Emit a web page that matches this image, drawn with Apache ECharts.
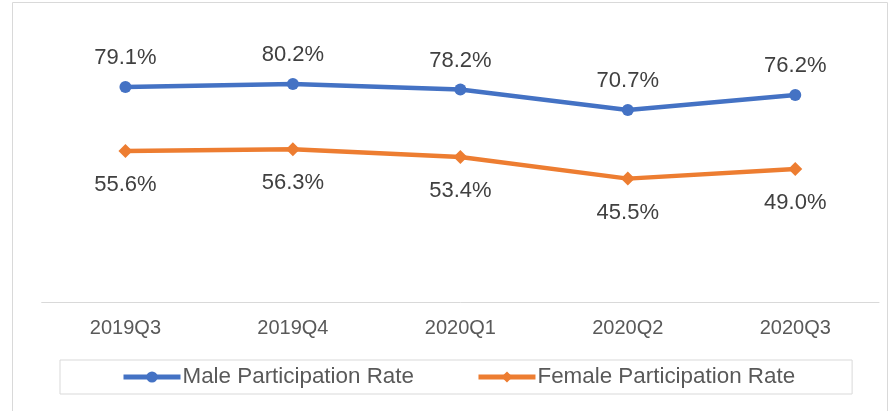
<!DOCTYPE html>
<html>
<head>
<meta charset="utf-8">
<script src="https://cdn.jsdelivr.net/npm/echarts@6/dist/echarts.min.js"></script>
<style>
html,body{margin:0;padding:0;background:#fff;}
#c{width:889px;height:411px;}
</style>
</head>
<body>
<div id="c"></div>
<script>
const categories = ['2019Q3', '2019Q4', '2020Q1', '2020Q2', '2020Q3'];
const maleRate = [79.1, 80.2, 78.2, 70.7, 76.2];
const femaleRate = [55.6, 56.3, 53.4, 45.5, 49.0];
const seriesNames = ['Male Participation Rate', 'Female Participation Rate'];

const chart = echarts.init(document.getElementById('c'), null, {renderer: 'canvas'});
const font = 'Liberation Sans, Arial, sans-serif';
chart.setOption({
  animation: false,
  textStyle: {fontFamily: font},
  graphic: [{
    type: 'rect',
    shape: {x: 12.5, y: 2.5, width: 875, height: 430},
    style: {fill: 'none', stroke: '#d9d9d9', lineWidth: 1},
    silent: true
  }],
  grid: {left: 41.7, right: 10, top: 30, bottom: 108.3},
  legend: {
    left: 60, top: 360,
    padding: [6, 57, 6, 61],
    borderColor: '#d9d9d9', borderWidth: 1,
    itemWidth: 57, itemHeight: 14, itemGap: 62,
    lineStyle: {width: 5},
    textStyle: {fontSize: 22.4, color: '#595959', fontFamily: font, padding: [0, 0, 0, -3]},
    data: seriesNames
  },
  xAxis: {
    type: 'category', data: categories, boundaryGap: true,
    axisLine: {lineStyle: {color: '#d9d9d9', width: 1}},
    axisTick: {show: false},
    axisLabel: {fontSize: 20, color: '#595959', margin: 16, fontFamily: font}
  },
  yAxis: {type: 'value', min: 0, max: 100, show: false, splitLine: {show: false}},
  series: [{
    name: seriesNames[0], type: 'line', data: maleRate,
    symbol: 'circle', symbolSize: 12,
    itemStyle: {color: '#4472C4'},
    lineStyle: {color: '#4472C4', width: 4.5},
    label: {show: true, position: 'top', distance: 12, fontSize: 22, color: '#404040',
      fontFamily: font, formatter: p => p.value.toFixed(1) + '%'}
  }, {
    name: seriesNames[1], type: 'line', data: femaleRate,
    symbol: 'diamond', symbolSize: 14,
    itemStyle: {color: '#ED7D31'},
    lineStyle: {color: '#ED7D31', width: 4.5},
    label: {show: true, position: 'bottom', distance: 16, fontSize: 22, color: '#404040',
      fontFamily: font, formatter: p => p.value.toFixed(1) + '%'}
  }]
});
</script>
</body>
</html>
